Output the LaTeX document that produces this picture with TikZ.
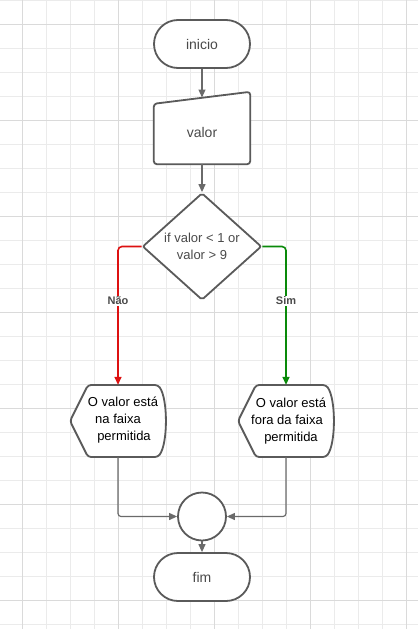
\documentclass[tikz,border=0pt]{standalone}
\usepackage{fontspec}
\setmainfont{Liberation Sans}
\usetikzlibrary{arrows.meta,shapes.geometric,calc}
\definecolor{gridminor}{HTML}{EBEBEB}
\definecolor{gridmajor}{HTML}{DADADA}
\definecolor{border}{HTML}{5A5A5A}
\definecolor{connc}{HTML}{6A6A6A}
\definecolor{txtgray}{HTML}{4A4A4A}
\definecolor{myred}{HTML}{DD1111}
\definecolor{mygreen}{HTML}{0A8A0A}
\begin{document}
\begin{tikzpicture}[x=1pt,y=-1pt,
  shapeline/.style={draw=border,line width=1.8pt,fill=white},
  terminal/.style={shapeline,rectangle,rounded corners=24pt,minimum width=96pt,minimum height=48pt,inner sep=0pt},
  bigtxt/.style={font=\fontsize{14pt}{17pt}\selectfont,text=txtgray,align=center},
  midtxt/.style={font=\fontsize{13pt}{16.5pt}\selectfont,text=txtgray,align=center},
  blacktxt/.style={font=\fontsize{13pt}{17pt}\selectfont,text=black,align=center},
  frame/.style={minimum width=96pt,minimum height=72pt,inner sep=0pt},
  conn/.style={draw=connc,line width=1.2pt,-{Triangle[length=8pt,width=7pt]}},
  branch/.style={conn,line width=1.6pt,rounded corners=4pt},
  branchlbl/.style={font=\fontsize{11pt}{13pt}\selectfont\bfseries,text=txtgray,fill=white,inner sep=1pt},
  gminor/.style={draw=gridminor,line width=1pt},
  gmajor/.style={draw=gridmajor,line width=1pt}
]
\useasboundingbox (0,0) rectangle (418,629);
\fill[white] (0,0) rectangle (418,629);
% grid
\foreach \x in {22,46,...,406} \draw[gminor] (\x,0) -- (\x,629);
\foreach \y in {0,24,...,624} \draw[gminor] (0,\y) -- (418,\y);
\foreach \x in {22,118,214,310,406} \draw[gmajor] (\x,0) -- (\x,629);
\foreach \y in {24,120,216,312,408,504,600} \draw[gmajor] (0,\y) -- (418,\y);

% nodes
\node[terminal,bigtxt] (inicio) at (202,44) {inicio};

\node[frame] (valor) at (202,128) {};
\draw[shapeline,rounded corners=3pt] (valor.south west) -- (valor.south east) -- (valor.north east) -- ($(valor.north west)+(0,12)$) -- cycle;
\node[bigtxt] (valortxt) at (202,132) {valor};
\coordinate (valorin) at (202,97.5);

\node[diamond,shapeline,rounded corners=2pt,minimum width=119pt,minimum height=107pt,aspect=1.11,inner sep=0pt,midtxt] (dec) at (202,246.5) {if valor < 1 or\\valor > 9};

\node[frame] (nao) at (118,421) {};
\begin{scope}[shift={(nao.center)}]
\draw[shapeline,rounded corners=3pt] (-48,0) -- (-30,-36) -- (40,-36) .. controls (50,-22) and (50,22) .. (40,36) -- (-30,36) -- cycle;
\end{scope}
\node[blacktxt] (naotxt) at (123,420) {O valor está\\na faixa\rule{10pt}{0pt}\\\rule{2pt}{0pt}permitida};

\node[frame] (sim) at (286,421) {};
\begin{scope}[shift={(sim.center)}]
\draw[shapeline,rounded corners=3pt] (-48,0) -- (-30,-36) -- (40,-36) .. controls (50,-22) and (50,22) .. (40,36) -- (-30,36) -- cycle;
\end{scope}
\node[blacktxt] (simtxt) at (291,421) {O valor está\\fora da faixa\rule{8pt}{0pt}\\permitida};

\node[circle,shapeline,minimum size=48pt,inner sep=0pt] (merge) at (202,516.5) {};
\node[terminal,bigtxt] (fim) at (202,577) {fim};

% connectors
\draw[conn] (inicio.south) -- (valorin);
\draw[conn] (valor.south) -- (dec.north);
\draw[branch,draw=myred] (dec.west) -| (nao.north);
\draw[branch,draw=mygreen] (dec.east) -| (sim.north);
\node[branchlbl] (naolbl) at (118,301) {Não};
\node[branchlbl] (simlbl) at (286,301) {Sim};
\draw[conn,rounded corners=3pt] (nao.south) |- (merge.west);
\draw[conn,rounded corners=3pt] (sim.south) |- (merge.east);
\draw[conn] (merge.south) -- (fim.north);
\end{tikzpicture}
\end{document}
